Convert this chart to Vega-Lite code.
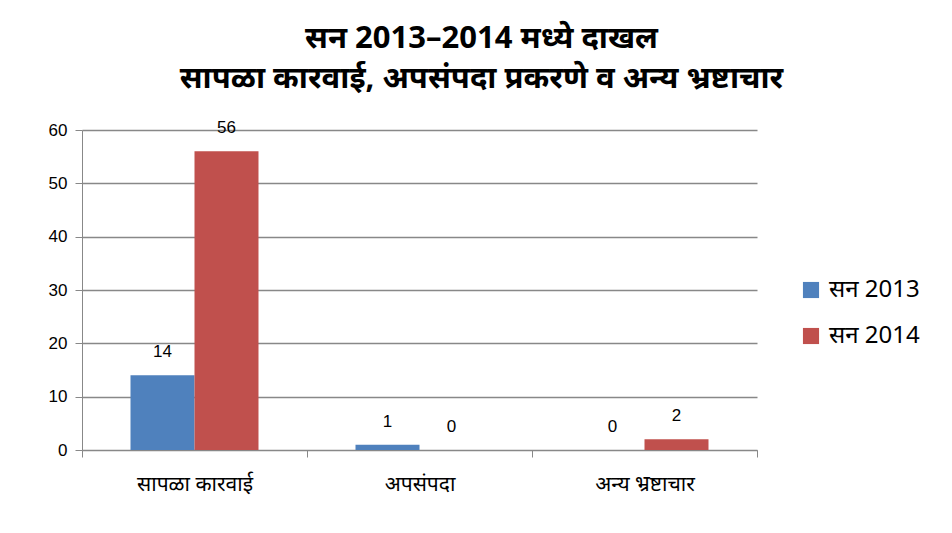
{
  "$schema": "https://vega.github.io/schema/vega-lite/v6.json",
  "width": 675,
  "height": 320,
  "autosize": {"type": "none"},
  "padding": {"left": 82, "top": 130, "right": 195, "bottom": 83},
  "background": "white",
  "config": {"view": {"stroke": null}, "font": "Liberation Sans"},
  "title": {
    "text": ["सन 2013–2014 मध्ये दाखल", "सापळा कारवाई, अपसंपदा प्रकरणे व अन्य भ्रष्टाचार"],
    "fontSize": 31,
    "fontWeight": "bold",
    "font": "Noto Sans",
    "lineHeight": 40,
    "anchor": "middle",
    "frame": "group",
    "dx": 62,
    "offset": 24,
    "color": "#000000"
  },
  "data": {
    "values": [
      {"category": "सापळा कारवाई", "series": "सन 2013", "value": 14},
      {"category": "सापळा कारवाई", "series": "सन 2014", "value": 56},
      {"category": "अपसंपदा", "series": "सन 2013", "value": 1},
      {"category": "अपसंपदा", "series": "सन 2014", "value": 0},
      {"category": "अन्य भ्रष्टाचार", "series": "सन 2013", "value": 0},
      {"category": "अन्य भ्रष्टाचार", "series": "सन 2014", "value": 2}
    ]
  },
  "encoding": {
    "x": {
      "field": "category",
      "type": "nominal",
      "sort": null,
      "scale": {"paddingInner": 0, "paddingOuter": 0},
      "axis": {
        "title": null,
        "labelAngle": 0,
        "labelFont": "Noto Sans",
        "labelFontSize": 21,
        "labelColor": "#000000",
        "labelPadding": 16,
        "domainColor": "#888888",
        "tickColor": "#888888",
        "tickBand": "extent",
        "tickSize": 7
      }
    },
    "xOffset": {
      "field": "series",
      "type": "nominal",
      "scale": {"paddingInner": 0, "paddingOuter": 0.758}
    },
    "y": {
      "field": "value",
      "type": "quantitative",
      "scale": {"domain": [0, 60]},
      "axis": {
        "title": null,
        "values": [0, 10, 20, 30, 40, 50, 60],
        "labelFontSize": 17,
        "labelColor": "#000000",
        "labelPadding": 8,
        "gridColor": "#888888",
        "gridWidth": 1.5,
        "domainColor": "#888888",
        "tickColor": "#888888",
        "tickSize": 7
      }
    }
  },
  "layer": [
    {
      "mark": {"type": "bar"},
      "encoding": {
        "color": {
          "field": "series",
          "type": "nominal",
          "scale": {"range": ["#4F81BD", "#C0504D"]},
          "legend": {
            "title": null,
            "orient": "none",
            "legendX": 717,
            "legendY": 148,
            "symbolType": "square",
            "symbolSize": 260,
            "symbolStrokeWidth": 0,
            "labelFont": "Noto Sans",
            "labelFontSize": 24,
            "labelColor": "#000000",
            "rowPadding": 22,
            "labelOffset": 6
          }
        }
      }
    },
    {
      "mark": {"type": "text", "baseline": "bottom", "dy": -14, "fontSize": 17, "color": "#000000"},
      "encoding": {"text": {"field": "value", "type": "quantitative"}}
    }
  ]
}
